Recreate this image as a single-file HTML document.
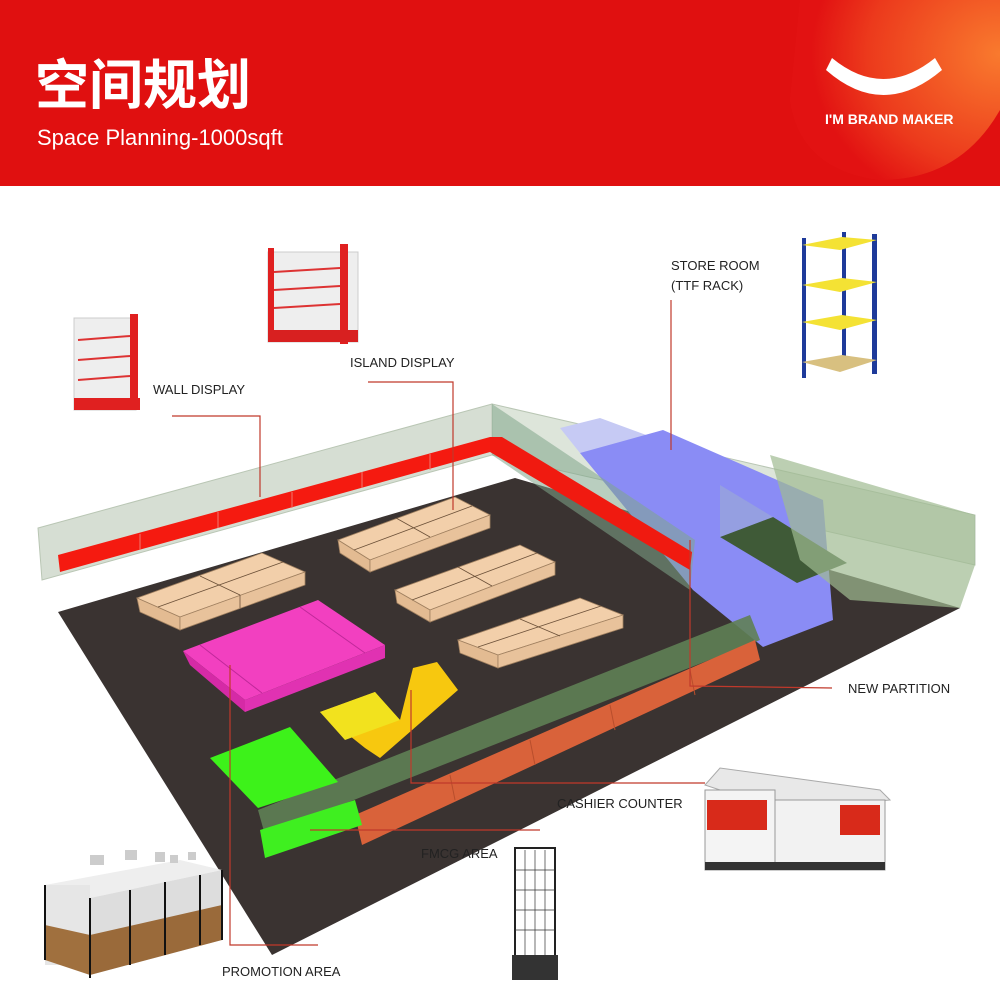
<!DOCTYPE html>
<html><head><meta charset="utf-8"><style>
body{margin:0;width:1000px;height:1000px;overflow:hidden;background:#fff;font-family:"Liberation Sans","Noto Sans CJK SC",sans-serif}
svg{position:absolute;left:0;top:0}
</style></head><body>
<svg width="1000" height="1000" viewBox="0 0 1000 1000" xmlns="http://www.w3.org/2000/svg">
<defs>
<radialGradient id="og" cx="1" cy="0.3" r="0.9">
<stop offset="0" stop-color="#f97a2e"/><stop offset="0.7" stop-color="#ec3a1c"/><stop offset="1" stop-color="#e21212"/>
</radialGradient>
</defs>
<rect x="0" y="0" width="1000" height="186" fill="#e01010"/>
<path d="M800 0 L1000 0 L1000 110 Q960 180 880 180 Q800 170 790 100 Z" fill="url(#og)"/>
<text x="35" y="104" font-size="54" font-weight="bold" fill="#fff" font-family="'Noto Sans CJK SC',sans-serif">空间规划</text>
<text x="37" y="145" font-size="22" fill="#fff">Space Planning-1000sqft</text>
<path d="M832 58 Q883 100 935 58 L942 70 Q883 120 826 70 Z" fill="#fff"/>
<text x="825" y="124" font-size="14" font-weight="bold" fill="#fff">I'M BRAND MAKER</text>

<!-- back wall glass -->
<polygon points="38,528 492,404 492,455 42,580" fill="#d6ded3" stroke="#b9c6b4"/>
<!-- right wall glass -->
<polygon points="492,404 975,515 975,565 492,455" fill="#dde5da" stroke="#b9c6b4"/>
<!-- floor -->
<polygon points="58,612 515,478 960,608 272,955" fill="#3a3331"/>
<!-- blue storeroom -->
<polygon points="560,428 600,418 823,500 580,453" fill="#c6caf4"/>
<polygon points="580,453 663,430 823,500 833,620 763,647 693,590" fill="#8a8cf5"/>
<!-- dark green box area -->
<polygon points="720,537 773,517 847,563 797,583" fill="#3f5a37"/>
<polygon points="770,455 975,515 975,565 960,608 850,600 800,560" fill="#9fbb92" opacity="0.7"/>
<polygon points="720,485 773,517 720,537" fill="#9aa6d8" opacity="0.7"/>
<!-- partition plane -->
<polygon points="492,404 695,540 690,590 492,455" fill="#7fa58a" opacity="0.55"/>
<!-- red wall display -->
<polygon points="58,555 490,437 490,452 60,572" fill="#f51a10"/>
<polygon points="490,437 502,437 692,552 690,570 490,452" fill="#f01a10"/>
<g stroke="#f07a70" stroke-width="1">
<line x1="140" y1="534" x2="140" y2="550"/><line x1="218" y1="512" x2="218" y2="528"/><line x1="292" y1="492" x2="292" y2="508"/><line x1="362" y1="472" x2="362" y2="488"/><line x1="430" y1="454" x2="430" y2="470"/>
</g>
<!-- front green partition along cashier -->
<polygon points="258,810 750,615 760,640 265,835" fill="#5f7f55" opacity="0.9"/>
<!-- cashier orange -->
<polygon points="355,815 755,640 760,660 362,845" fill="#d9623a"/>
<g stroke="#b84e2c"><line x1="450" y1="775" x2="455" y2="800"/><line x1="530" y1="740" x2="535" y2="765"/><line x1="610" y1="705" x2="615" y2="730"/><line x1="690" y1="670" x2="695" y2="695"/></g>
<!-- tables -->
<g fill="#f2cfaa" stroke="#a08060" stroke-width="0.8">
<polygon points="137,598 262,553 305,572 180,617"/><polygon points="137,598 180,617 180,630 140,612" fill="#e3bb92"/><polygon points="180,617 305,572 305,585 180,630" fill="#e8c29b"/>
<polygon points="338,540 455,497 490,515 370,560"/><polygon points="338,540 370,560 370,572 340,553" fill="#e3bb92"/><polygon points="370,560 490,515 490,528 370,572" fill="#e8c29b"/>
<polygon points="395,590 520,545 555,562 430,610"/><polygon points="395,590 430,610 430,622 397,603" fill="#e3bb92"/><polygon points="430,610 555,562 555,575 430,622" fill="#e8c29b"/>
<polygon points="458,640 580,598 623,615 498,655"/><polygon points="458,640 498,655 498,668 460,653" fill="#e3bb92"/><polygon points="498,655 623,615 623,628 498,668" fill="#e8c29b"/>
</g>
<g stroke="#6b5038" stroke-width="0.8">
<line x1="158" y1="607" x2="283" y2="562"/><line x1="200" y1="576" x2="240" y2="595"/><line x1="240" y1="595" x2="240" y2="608"/>
<line x1="354" y1="550" x2="472" y2="506"/><line x1="396" y1="518" x2="430" y2="537"/>
<line x1="412" y1="600" x2="537" y2="553"/><line x1="458" y1="567" x2="492" y2="586"/>
<line x1="478" y1="647" x2="601" y2="606"/><line x1="520" y1="619" x2="560" y2="636"/>
</g>
<!-- pink -->
<polygon points="183,651 318,600 385,645 245,700" fill="#f240c0"/>
<polygon points="183,651 245,700 245,712 190,665" fill="#d52aa6"/>
<polygon points="245,700 385,645 385,658 245,712" fill="#e032b2"/>
<line x1="200" y1="645" x2="262" y2="693" stroke="#c0289a"/><line x1="300" y1="607" x2="365" y2="653" stroke="#c0289a"/>
<!-- yellow L -->
<polygon points="320,712 375,692 400,720 413,668 437,662 458,690 380,758 365,748" fill="#f7c80f"/>
<polygon points="320,712 375,692 400,720 345,740" fill="#f2e21e"/>
<!-- green promo -->
<polygon points="210,758 290,727 338,782 258,808" fill="#3df21a"/>
<polygon points="260,830 355,800 362,825 265,858" fill="#3fef20"/>
<!-- leader lines -->
<g stroke="#c0392b" stroke-width="1.2" fill="none">
<polyline points="172,416 260,416 260,497"/>
<polyline points="368,382 453,382 453,510"/>
<polyline points="671,300 671,450"/>
<polyline points="690,540 690,686 832,688"/>
<polyline points="411,690 411,783 705,783"/>
<polyline points="310,830 540,830"/>
<polyline points="230,665 230,945 318,945"/>
</g>
<g font-size="13" fill="#222">
<text x="153" y="394">WALL DISPLAY</text>
<text x="350" y="367">ISLAND DISPLAY</text>
<text x="671" y="270">STORE ROOM</text>
<text x="671" y="290">(TTF RACK)</text>
<text x="848" y="693">NEW PARTITION</text>
<text x="557" y="808">CASHIER COUNTER</text>
<text x="421" y="858">FMCG AREA</text>
<text x="222" y="976">PROMOTION AREA</text>
</g>
<!-- wall display shelf -->
<g>
<rect x="74" y="318" width="62" height="92" fill="#eee" stroke="#ccc"/>
<rect x="130" y="314" width="8" height="96" fill="#e02020"/>
<rect x="74" y="398" width="66" height="12" fill="#e02020"/>
<g stroke="#d33" stroke-width="2"><line x1="78" y1="340" x2="130" y2="336"/><line x1="78" y1="360" x2="130" y2="356"/><line x1="78" y1="380" x2="130" y2="376"/></g>
</g>
<!-- island display -->
<g>
<rect x="268" y="252" width="90" height="90" fill="#eee" stroke="#ccc"/>
<rect x="268" y="248" width="6" height="94" fill="#e02020"/><rect x="340" y="244" width="8" height="100" fill="#e02020"/>
<rect x="268" y="330" width="90" height="12" fill="#d82020"/>
<g stroke="#d33" stroke-width="2"><line x1="274" y1="272" x2="340" y2="268"/><line x1="274" y1="290" x2="340" y2="286"/><line x1="274" y1="308" x2="340" y2="304"/></g>
</g>
<!-- TTF rack -->
<g>
<rect x="802" y="238" width="4" height="140" fill="#1e3a9a"/><rect x="872" y="234" width="5" height="140" fill="#1e3a9a"/><rect x="842" y="232" width="4" height="128" fill="#1e3a9a"/>
<polygon points="802,245 842,237 877,240 840,250" fill="#f4e234"/>
<polygon points="802,285 842,278 877,282 840,292" fill="#f4e234"/>
<polygon points="802,322 842,315 877,320 840,330" fill="#f4e234"/>
<polygon points="802,362 842,355 877,360 840,372" fill="#d8c080"/>
</g>
<!-- cashier counter -->
<g>
<polygon points="705,785 720,768 880,790 890,800 780,810" fill="#e8e8e8" stroke="#aaa"/>
<rect x="705" y="790" width="70" height="80" fill="#f4f4f4" stroke="#999"/>
<rect x="707" y="800" width="60" height="30" fill="#d82a1a"/>
<rect x="775" y="800" width="110" height="70" fill="#f2f2f2" stroke="#999"/>
<rect x="840" y="805" width="40" height="30" fill="#d82a1a"/>
<rect x="705" y="862" width="180" height="8" fill="#333"/>
</g>
<!-- FMCG rack -->
<g>
<rect x="515" y="848" width="40" height="110" fill="#fff" stroke="#222" stroke-width="2"/>
<g stroke="#333" stroke-width="0.7">
<line x1="525" y1="850" x2="525" y2="958"/><line x1="535" y1="850" x2="535" y2="958"/><line x1="545" y1="850" x2="545" y2="958"/>
<line x1="515" y1="870" x2="555" y2="870"/><line x1="515" y1="890" x2="555" y2="890"/><line x1="515" y1="910" x2="555" y2="910"/><line x1="515" y1="930" x2="555" y2="930"/>
</g>
<rect x="512" y="955" width="46" height="25" fill="#333"/>
</g>
<!-- promotion bins -->
<g>
<polygon points="45,885 180,860 222,870 90,898" fill="#eee"/>
<rect x="45" y="885" width="45" height="80" fill="#e6e6e6"/>
<polygon points="90,898 222,870 222,940 90,975" fill="#ddd"/>
<polygon points="45,925 90,935 90,975 45,960" fill="#a0703e"/>
<polygon points="90,935 222,905 222,940 90,975" fill="#9a6a3a"/>
<g stroke="#111" stroke-width="2"><line x1="45" y1="885" x2="45" y2="960"/><line x1="90" y1="898" x2="90" y2="978"/><line x1="130" y1="890" x2="130" y2="965"/><line x1="165" y1="882" x2="165" y2="955"/><line x1="200" y1="875" x2="200" y2="945"/><line x1="222" y1="870" x2="222" y2="940"/></g>
<g fill="#ccc"><rect x="90" y="855" width="14" height="10"/><rect x="125" y="850" width="12" height="10"/><rect x="155" y="852" width="10" height="10"/><rect x="170" y="855" width="8" height="8"/><rect x="188" y="852" width="8" height="8"/></g>
</g>
</svg>
</body></html>
